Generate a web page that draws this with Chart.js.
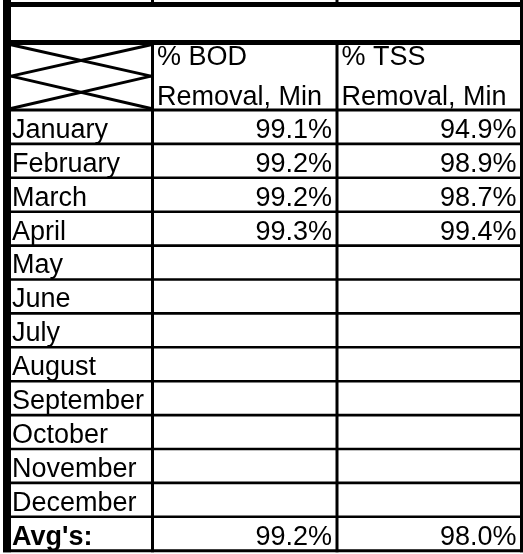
<!DOCTYPE html>
<html>
<head>
<meta charset="utf-8">
<script src="https://cdn.jsdelivr.net/npm/chart.js@4.4.1/dist/chart.umd.min.js"></script>
<style>
  html, body { margin: 0; padding: 0; background: #fff; }
  canvas { display: block; }
</style>
</head>
<body>
<canvas id="myChart" width="523" height="554"></canvas>
<script>
const months = ["January", "February", "March", "April", "May", "June", "July",
  "August", "September", "October", "November", "December"];
const bodMin = [99.1, 99.2, 99.2, 99.3, null, null, null, null, null, null, null, null];
const tssMin = [94.9, 98.9, 98.7, 99.4, null, null, null, null, null, null, null, null];
const avgs = [99.2, 98.0];
const headers = [["% BOD", "Removal, Min"], ["% TSS", "Removal, Min"]];
const avgLabel = "Avg's:";

const FONT = '"Liberation Sans", Arial, sans-serif';

// x: columns 1 and 2 are the value columns, label column sits left of 1
// y: month i is the band [i, i+1], header is [-2, 0], blank row above it
const LEFT = 0.2114;
const TOP_LINE = -3.11, BLANK_BOTTOM = -1.99;

function cellPoints(vals, avg, col) {
  const pts = [];
  vals.forEach(function (v, i) {
    if (v !== null) pts.push({ x: col + 0.5, y: i + 0.5, v: v });
  });
  pts.push({ x: col + 0.5, y: months.length + 0.5, v: avg });
  return pts;
}

const tablePlugin = {
  id: 'tablePlugin',
  afterDraw: function (chart) {
    const c = chart.ctx;
    const xs = chart.scales.x, ys = chart.scales.y;
    const px = v => xs.getPixelForValue(v);
    const py = v => ys.getPixelForValue(v);
    const bottom = months.length + 1;

    c.save();
    c.strokeStyle = '#000';
    c.lineCap = 'butt';

    function line(x0, y0, x1, y1, w) {
      c.lineWidth = w;
      c.beginPath();
      c.moveTo(x0, y0);
      c.lineTo(x1, y1);
      c.stroke();
    }

    const xl = px(LEFT) - 4, xr = px(3) + 1.5;
    // horizontal rules
    line(xl, py(TOP_LINE), xr, py(TOP_LINE), 5);
    line(xl, py(BLANK_BOTTOM), xr, py(BLANK_BOTTOM), 5);
    line(xl, py(0), xr, py(0), 3);
    for (let i = 1; i < bottom; i++) line(xl, py(i), xr, py(i), 2.6);
    line(xl, py(bottom), xr, py(bottom), 3);

    // outer verticals
    const yb = py(bottom) + 1.5;
    line(px(LEFT), 0, px(LEFT), yb, 8);
    line(px(3), 0, px(3), yb, 3);
    // inner verticals (merged blank row has none)
    [1, 2].forEach(function (k) {
      line(px(k), 0, px(k), py(TOP_LINE), 3);
      line(px(k), py(BLANK_BOTTOM), px(k), yb, 3);
    });

    // crossed header cells
    const dx0 = px(LEFT) + 4, dx1 = px(1) - 1.5;
    [[-2, -1], [-1, 0]].forEach(function (r) {
      const t = py(r[0]) + (r[0] === -2 ? 2.5 : 0), b = py(r[1]) - (r[1] === 0 ? 1.5 : 0);
      line(dx0, t, dx1, b, 3);
      line(dx1, t, dx0, b, 3);
    });

    // text
    c.fillStyle = '#000';
    c.textBaseline = 'alphabetic';
    c.font = '27px ' + FONT;
    c.textAlign = 'left';
    headers.forEach(function (h, k) {
      c.fillText(h[0], px(k + 1) + 4.5, py(-1) - 11);
      c.fillText(h[1], px(k + 1) + 4.5, py(0) - 5);
    });
    months.forEach(function (m, i) {
      c.fillText(m, px(LEFT) + 5, py(i + 1) - 6);
    });
    c.font = 'bold 27px ' + FONT;
    c.fillText(avgLabel, px(LEFT) + 5, py(bottom) - 6);

    c.font = '27px ' + FONT;
    c.textAlign = 'right';
    chart.data.datasets.forEach(function (ds, k) {
      const meta = chart.getDatasetMeta(k);
      meta.data.forEach(function (el, j) {
        const d = ds.data[j];
        c.fillText(d.v.toFixed(1) + '%', px(k + 2) - 5, el.y + 0.5 * (py(1) - py(0)) - 6);
      });
    });
    c.restore();
  }
};

const ctx = document.getElementById('myChart');

new Chart(ctx, {
  type: 'scatter',
  data: {
    datasets: [
      { label: headers[0].join(' '), data: cellPoints(bodMin, avgs[0], 1), pointRadius: 0 },
      { label: headers[1].join(' '), data: cellPoints(tssMin, avgs[1], 2), pointRadius: 0 }
    ]
  },
  options: {
    responsive: false,
    animation: false,
    devicePixelRatio: 1,
    layout: { padding: 0 },
    plugins: { legend: { display: false }, tooltip: { enabled: false } },
    scales: {
      x: { type: 'linear', display: false, min: 0.17344, max: 3.00813 },
      y: { type: 'linear', display: false, reverse: true, min: -3.2448, max: 13.0974 }
    }
  },
  plugins: [tablePlugin]
});
</script>
</body>
</html>
